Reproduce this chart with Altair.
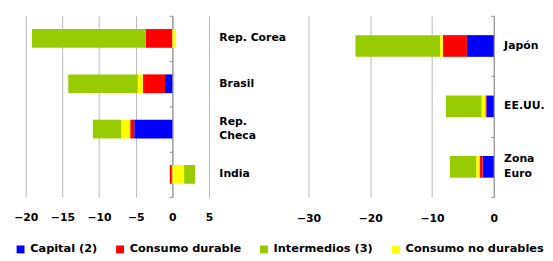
import altair as alt
import pandas as pd

series = ["Capital (2)", "Consumo durable", "Intermedios (3)", "Consumo no durables"]
colors = ["#0000FF", "#FF0000", "#99CC00", "#FFFF00"]
stack_rank = [0, 1, 3, 2]  # stacking order outward from zero

left_countries = ["Rep. Corea", "Brasil", "Rep. Checa", "India"]
left_capital = [-0.15, -1.0, -5.2, -0.1]
left_durable = [-3.5, -3.0, -0.55, -0.25]
left_intermedios = [-15.5, -9.5, -3.9, 1.5]
left_nodurables = [0.5, -0.7, -1.2, 1.6]
left_ticks = [-20, -15, -10, -5, 0, 5]

right_countries = ["Japón", "EE.UU.", "Zona Euro"]
right_capital = [-4.35, -1.2, -1.8]
right_durable = [-3.9, -0.15, -0.5]
right_intermedios = [-13.7, -5.8, -4.3]
right_nodurables = [-0.45, -0.6, -0.5]
right_ticks = [-30, -20, -10, 0]

two_line_labels = ["Rep. Checa", "Zona Euro"]

FONT = "DejaVu Sans"


def long_df(countries, vals_list):
    rows = []
    for s, rank, vals in zip(series, stack_rank, vals_list):
        for c, v in zip(countries, vals):
            rows.append({"pais": c, "serie": s, "valor": v, "orden": rank})
    return pd.DataFrame(rows)


TWO = "indexof(" + str(two_line_labels) + ", datum.label) >= 0"
LABEL_EXPR = TWO + " ? split(datum.label, ' ') : datum.label"


def panel(df, countries, domain, ticks, width, height, bar_size, label_pad, xpad):
    base = alt.Chart(df)
    ysort = countries
    bars = base.mark_bar(size=bar_size).encode(
        x=alt.X("valor:Q", stack="zero",
                scale=alt.Scale(domain=domain, nice=False),
                axis=alt.Axis(values=ticks, title=None, domain=False, ticks=False,
                              grid=True, gridColor="#b8b8b8", gridWidth=1,
                              labelPadding=xpad, labelFontSize=11,
                              labelFontWeight="bold", labelColor="black",
                              labelFont=FONT, labelFlush=False)),
        y=alt.Y("pais:N", sort=ysort,
                scale=alt.Scale(paddingInner=0, paddingOuter=0),
                axis=alt.Axis(orient="right", title=None, domain=False, ticks=False,
                              grid=False, labelPadding=label_pad, labelFontSize=11,
                              labelFontWeight="bold", labelColor="black",
                              labelFont=FONT, labelExpr=LABEL_EXPR,
                              labelLineHeight=15, labelBaseline="middle",
                              labelOffset={"condition": {"test": TWO, "value": -7.5},
                                           "value": 0})),
        color=alt.Color("serie:N", scale=alt.Scale(domain=series, range=colors),
                        legend=alt.Legend(title=None, orient="none",
                                          legendX=-11, legendY=231,
                                          direction="horizontal",
                                          symbolType="square", symbolSize=64,
                                          symbolStrokeWidth=0, labelFontSize=11.5,
                                          labelFontWeight="bold", labelFont=FONT,
                                          labelColor="black", columnPadding=17,
                                          labelOffset=4, padding=0)),
        order=alt.Order("orden:Q", sort="ascending"),
    )
    zero_off = -width * (0 - domain[0]) / (domain[1] - domain[0])
    axis_layer = base.mark_tick(opacity=0).encode(
        y=alt.Y("pais:N", sort=ysort,
                axis=alt.Axis(orient="left", offset=zero_off, title=None,
                              labels=False, tickBand="extent", grid=False,
                              domainColor="#8c8c8c", tickColor="#8c8c8c",
                              tickSize=3, domainWidth=1)),
    )
    return alt.layer(bars, axis_layer).resolve_axis(y="independent").properties(
        width=width, height=height)


left = panel(long_df(left_countries, [left_capital, left_durable, left_intermedios, left_nodurables]),
             left_countries, [-20, 5], left_ticks, 186, 184, 19, 10, 15)
right = panel(long_df(right_countries, [right_capital, right_durable, right_intermedios, right_nodurables]),
              right_countries, [-30, 0], right_ticks, 188, 184, 22, 10, 16)

chart = alt.hconcat(left, right, spacing=10).configure_view(stroke=None).properties(
    padding={"left": 5, "right": 0, "top": 5, "bottom": 5})

chart.save("out.html", embed_options={"renderer": "svg", "actions": False})
